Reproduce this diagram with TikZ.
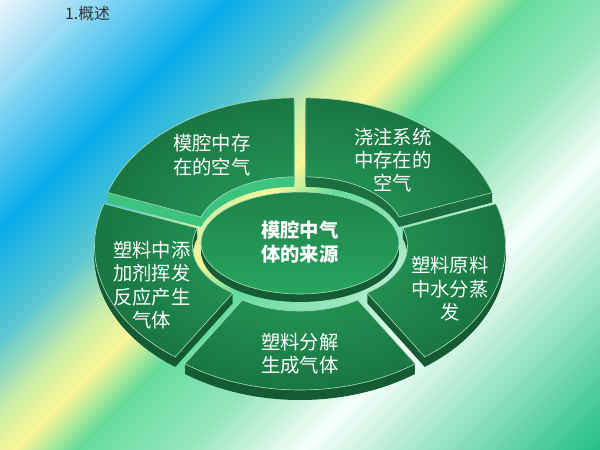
\documentclass[tikz,border=0pt]{standalone}
\usepackage{fontspec}
\newfontfamily\cjk{Noto Sans CJK SC}

% background colours, from top left to bottom right
\definecolor{bgA}{HTML}{EAF7FB}
\definecolor{bgB}{HTML}{9ADCF5}
\definecolor{bgC}{HTML}{0AACEA}
\definecolor{bgD}{HTML}{5CC8D0}
\definecolor{bgE}{HTML}{C8EDA8}
\definecolor{bgF}{HTML}{FBF79A}
\definecolor{bgG}{HTML}{64DC9C}
\definecolor{bgH}{HTML}{98E6BE}
\definecolor{bgI}{HTML}{F6FFFA}
\definecolor{bgJ}{HTML}{9AE4C6}
\definecolor{bgK}{HTML}{22BE86}
% ring
\definecolor{faceIn}{HTML}{27A35E}
\definecolor{faceOut}{HTML}{1A7642}
\definecolor{sideLt}{HTML}{3CC47F}
\definecolor{sideMd}{HTML}{1A6E3F}
\definecolor{sideDk}{HTML}{145A33}
\definecolor{rimLine}{HTML}{A8DDB8}
\definecolor{hubTop}{HTML}{1E8449}
\definecolor{hubBot}{HTML}{27A460}
\definecolor{hubSide}{HTML}{145C35}
\definecolor{titleGray}{HTML}{333333}

% one piece of the ring, between two angles
\newcommand{\ringpiece}[2]{(#1:196 and 137) arc[start angle=#1,end angle=#2,x radius=196,y radius=137] -- (#2:98 and 58) arc[start angle=#2,end angle=#1,x radius=98,y radius=58] -- cycle}

\tikzset{
  lbl/.style={text=white, align=center, font=\cjk\fontsize{11}{13.3}\selectfont},
  rim/.style={draw=rimLine, line width=0.35pt}
}

\begin{document}
\begin{tikzpicture}[x=0.02cm,y=0.02cm]
\useasboundingbox (0,0) rectangle (600,450);

% background
\begin{scope}
\clip (0,0) rectangle (600,450);
\foreach \qa/\qb/\ca/\cb in {0/85/bgA/bgB, 85/226/bgB/bgC, 226/339/bgC/bgD, 339/410/bgD/bgE, 410/464/bgE/bgF, 464/526/bgF/bgG, 526/636/bgG/bgH, 636/752/bgH/bgI, 752/877/bgI/bgJ, 877/1050/bgJ/bgK}{
  \foreach \k in {0,...,19}{
    \pgfmathsetmacro{\qs}{\qa+(\qb-\qa)*\k/20}
    \pgfmathsetmacro{\qe}{\qa+(\qb-\qa)*(\k+1)/20+2}
    \pgfmathtruncatemacro{\pc}{5*\k}
    \fill[\cb!\pc!\ca] (\qs-550,-100) -- (\qs+100,550) -- (\qe+100,550) -- (\qe-550,-100) -- cycle;
  }
}
\end{scope}

\node[anchor=west, text=titleGray, font=\cjk\fontsize{9}{11}\selectfont] (title) at (59,436) {1.概述};

% the five pieces, pulled a little apart
\foreach \a/\b/\sd in {90/162/sideLt, 18/90/sideMd, 162/234/sideDk, 306/378/sideDk, 234/306/sideDk}{
  \pgfmathsetmacro{\m}{(\a+\b)/2}
  \begin{scope}[shift={(300,207)}, shift={(\m:10)}]
    \foreach \d in {10,...,1}
      \fill[\sd, shift={(0,-\d)}] \ringpiece{\a}{\b};
    \begin{scope}
      \clip \ringpiece{\a}{\b};
      \shade[inner color=faceIn, outer color=faceOut] (0,0) ellipse [x radius=196, y radius=137];
    \end{scope}
    \draw[rim] \ringpiece{\a}{\b};
  \end{scope}
}

% centre
\foreach \d in {8,...,1}
  \fill[hubSide] (300,207-\d) ellipse [x radius=99, y radius=51];
\shade[top color=hubTop, bottom color=hubBot] (300,207) ellipse [x radius=99, y radius=51];
\draw[rim] (300,207) ellipse [x radius=99, y radius=51];

\node[lbl, font=\cjk\bfseries\fontsize{11}{13.3}\selectfont] (hub) at (300,208) {模腔中气\\体的来源};
\node[lbl] (mold) at (212,295) {模腔中存\\在的空气};
\node[lbl] (gate) at (393,290) {浇注系统\\中存在的\\空气};
\node[lbl] (additive) at (152,165) {塑料中添\\加剂挥发\\反应产生\\气体};
\node[lbl] (moisture) at (450,161) {塑料原料\\中水分蒸\\发};
\node[lbl] (decomp) at (300,96) {塑料分解\\生成气体};
\end{tikzpicture}
\end{document}
